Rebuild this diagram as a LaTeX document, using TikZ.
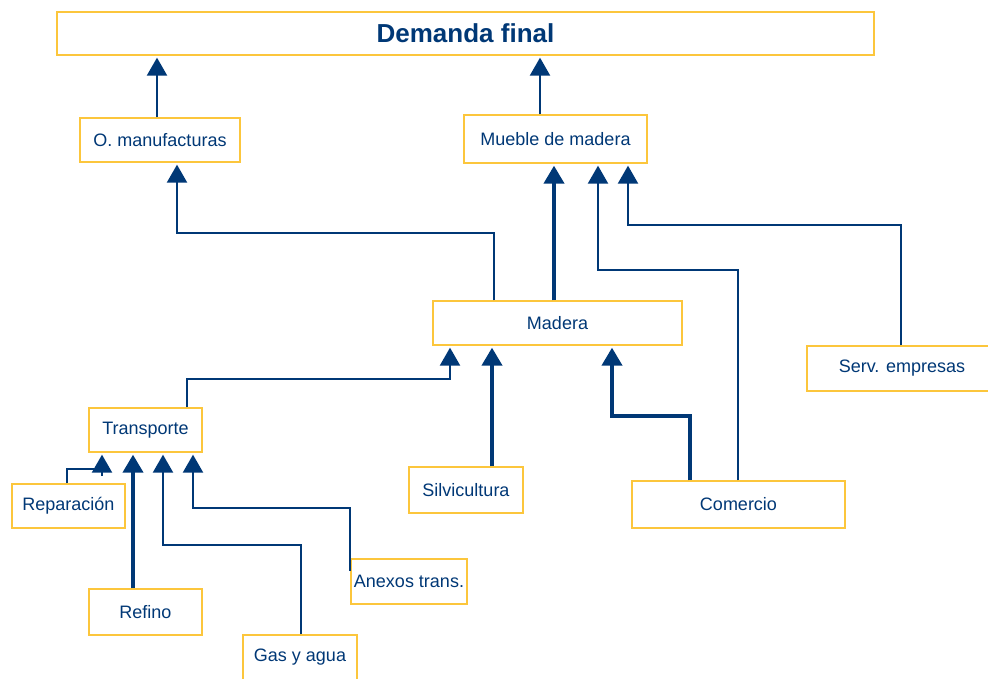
\documentclass[tikz,border=0pt]{standalone}
\usepackage{fontspec}
\setmainfont{Liberation Sans}
\usetikzlibrary{arrows.meta}
\definecolor{navy}{RGB}{0,56,118}
\definecolor{gold}{RGB}{252,198,60}
\begin{document}
\begin{tikzpicture}[x=1pt,y=-1pt,
  box/.style={draw=gold, line width=1.3pt, fill=white, text=navy,
    font=\fontsize{18}{21}\selectfont, inner sep=0pt},
  thinarr/.style={draw=navy, line width=2.2pt, line join=miter,
    -{Triangle[width=20pt,length=18pt]}, shorten >=2pt},
  thinline/.style={draw=navy, line width=2.2pt, line join=miter},
  thickarr/.style={thinarr, line width=4pt}]
\useasboundingbox (0,0) rectangle (988,678);

\node[box, minimum width=817pt, minimum height=43pt] (dem) at (465.5,33.5)
  {\fontsize{26}{30}\selectfont\bfseries Demanda final};
\node[box, minimum width=160pt, minimum height=44pt] (omanu) at (160,140) {O. manufacturas};
\node[box, minimum width=183pt, minimum height=48pt] (mueble) at (555.5,139) {Mueble de madera};
\node[box, minimum width=249pt, minimum height=44pt] (madera) at (557.5,323) {Madera};
\node[box, minimum width=113pt, minimum height=44pt] (transp) at (145.5,430) {Transporte};
\node[box, minimum width=113pt, minimum height=44pt] (repar) at (68.5,506) {Reparación};
\node[box, minimum width=113pt, minimum height=46pt] (refino) at (145.5,612) {Refino};
\node[box, minimum width=114pt, minimum height=45pt] (gas) at (300,657.5) {Gas y agua};
\node[box, minimum width=116pt, minimum height=45pt] (anexos) at (409,581.5) {Anexos trans.};
\node[box, minimum width=114pt, minimum height=46pt] (silvi) at (466,490) {Silvicultura};
\node[box, minimum width=213pt, minimum height=47pt] (comercio) at (738.5,504.5) {Comercio};
\node[box, minimum width=190pt, minimum height=45pt] (serv) at (902,368.5) {Serv. empresas};

% to Demanda final
\draw[thinarr] (omanu.north -| 157,0) -- (dem.south -| 157,0);
\draw[thinarr] (mueble.north -| 540,0) -- (dem.south -| 540,0);
% to O. manufacturas
\draw[thinarr] (madera.north -| 494,0) |- (177,233) -- (omanu.south -| 177,0);
% to Mueble de madera
\draw[thickarr] (madera.north -| 554,0) -- (mueble.south -| 554,0);
\draw[thinarr] (comercio.north -| 738,0) |- (598,270) -- (mueble.south -| 598,0);
\draw[thinarr] (serv.north -| 901,0) |- (628,225) -- (mueble.south -| 628,0);
% to Madera
\draw[thinarr] (transp.north -| 187,0) |- (450,379) -- (madera.south -| 450,0);
\draw[thickarr] (silvi.north -| 492,0) -- (madera.south -| 492,0);
\draw[thickarr] (comercio.north -| 690,0) |- (612,416) -- (madera.south -| 612,0);
% to Transporte
\draw[thinline] (repar.north -| 67,0) |- (103.1,469);
\draw[thinarr] (102,476) -- (transp.south -| 102,0);
\draw[thickarr] (refino.north -| 133,0) -- (transp.south -| 133,0);
\draw[thinarr] (gas.north -| 301,0) |- (163,545) -- (transp.south -| 163,0);
\draw[thinarr] ([yshift=11pt]anexos.west) |- (193,508) -- (transp.south -| 193,0);
\end{tikzpicture}
\end{document}
